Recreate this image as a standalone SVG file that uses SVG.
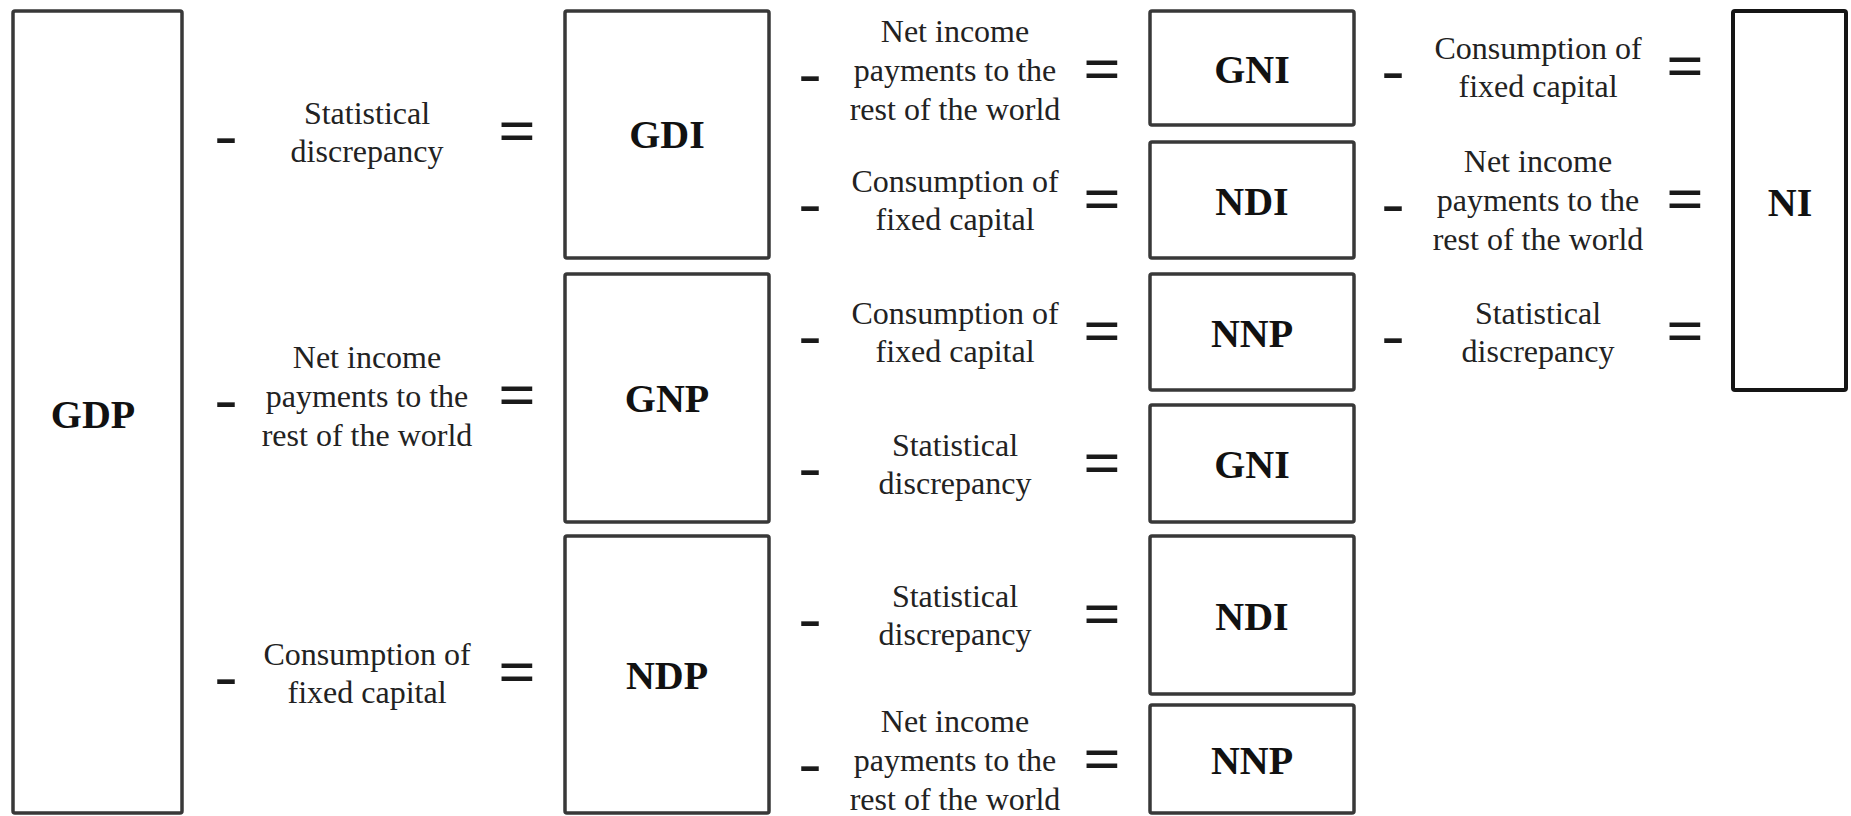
<svg xmlns="http://www.w3.org/2000/svg" width="1851" height="816" viewBox="0 0 1851 816">
<style>
.bg{fill:#ffffff}
.box{fill:#ffffff;stroke:#383838;stroke-width:3.5}
.boxd{fill:#ffffff;stroke:#151515;stroke-width:4}
.lbl{font-family:"Liberation Serif","Times New Roman",serif;font-weight:bold;font-size:40px;fill:#111;text-anchor:middle}
.t{font-family:"Liberation Serif","Times New Roman",serif;font-size:32px;fill:#222;text-anchor:middle}
.op{font-family:"Liberation Serif","Times New Roman",serif;font-weight:bold;fill:#1a1a1a;text-anchor:middle}
.mn{font-size:54px}
.eq{font-size:66px}
</style>
<rect class="bg" x="0" y="0" width="1851" height="816"/>

<g id="GDP"><rect class="box" x="13" y="11" width="169" height="802" rx="2"/><text class="lbl" x="93" y="428">GDP</text></g>
<g id="GDI"><rect class="box" x="565" y="11" width="204" height="247" rx="2"/><text class="lbl" x="667" y="148">GDI</text></g>
<g id="GNP"><rect class="box" x="565" y="274" width="204" height="248" rx="2"/><text class="lbl" x="667" y="412">GNP</text></g>
<g id="NDP"><rect class="box" x="565" y="536" width="204" height="277" rx="2"/><text class="lbl" x="667" y="689">NDP</text></g>
<g id="GNI1"><rect class="box" x="1150" y="11" width="204" height="114" rx="2"/><text class="lbl" x="1252" y="83">GNI</text></g>
<g id="NDI1"><rect class="box" x="1150" y="142" width="204" height="116" rx="2"/><text class="lbl" x="1252" y="215">NDI</text></g>
<g id="NNP1"><rect class="box" x="1150" y="274" width="204" height="116" rx="2"/><text class="lbl" x="1252" y="347">NNP</text></g>
<g id="GNI2"><rect class="box" x="1150" y="405" width="204" height="117" rx="2"/><text class="lbl" x="1252" y="478">GNI</text></g>
<g id="NDI2"><rect class="box" x="1150" y="536" width="204" height="158" rx="2"/><text class="lbl" x="1252" y="630">NDI</text></g>
<g id="NNP2"><rect class="box" x="1150" y="705" width="204" height="108" rx="2"/><text class="lbl" x="1252" y="774">NNP</text></g>
<g id="NI"><rect class="boxd" x="1733" y="11" width="113" height="379" rx="2"/><text class="lbl" x="1790" y="216">NI</text></g>

<g id="connectors">
  <g id="c1a">
    <text class="op mn" transform="translate(226,154) scale(1.25,1)">-</text>
    <text class="t" x="367" y="124">Statistical</text>
    <text class="t" x="367" y="162">discrepancy</text>
    <text class="op eq" transform="translate(517,153)">=</text>
  </g>
  <g id="c1b">
    <text class="op mn" transform="translate(226,418) scale(1.25,1)">-</text>
    <text class="t" x="367" y="368">Net income</text>
    <text class="t" x="367" y="407">payments to the</text>
    <text class="t" x="367" y="446">rest of the world</text>
    <text class="op eq" transform="translate(517,417)">=</text>
  </g>
  <g id="c1c">
    <text class="op mn" transform="translate(226,695) scale(1.25,1)">-</text>
    <text class="t" x="367" y="665">Consumption of</text>
    <text class="t" x="367" y="703">fixed capital</text>
    <text class="op eq" transform="translate(517,694)">=</text>
  </g>
  <g id="c2a">
    <text class="op mn" transform="translate(810,92) scale(1.25,1)">-</text>
    <text class="t" x="955" y="42">Net income</text>
    <text class="t" x="955" y="81">payments to the</text>
    <text class="t" x="955" y="120">rest of the world</text>
    <text class="op eq" transform="translate(1102,91)">=</text>
  </g>
  <g id="c2b">
    <text class="op mn" transform="translate(810,222) scale(1.25,1)">-</text>
    <text class="t" x="955" y="192">Consumption of</text>
    <text class="t" x="955" y="230">fixed capital</text>
    <text class="op eq" transform="translate(1102,221)">=</text>
  </g>
  <g id="c2c">
    <text class="op mn" transform="translate(810,354) scale(1.25,1)">-</text>
    <text class="t" x="955" y="324">Consumption of</text>
    <text class="t" x="955" y="362">fixed capital</text>
    <text class="op eq" transform="translate(1102,353)">=</text>
  </g>
  <g id="c2d">
    <text class="op mn" transform="translate(810,486) scale(1.25,1)">-</text>
    <text class="t" x="955" y="456">Statistical</text>
    <text class="t" x="955" y="494">discrepancy</text>
    <text class="op eq" transform="translate(1102,485)">=</text>
  </g>
  <g id="c2e">
    <text class="op mn" transform="translate(810,637) scale(1.25,1)">-</text>
    <text class="t" x="955" y="607">Statistical</text>
    <text class="t" x="955" y="645">discrepancy</text>
    <text class="op eq" transform="translate(1102,636)">=</text>
  </g>
  <g id="c2f">
    <text class="op mn" transform="translate(810,782) scale(1.25,1)">-</text>
    <text class="t" x="955" y="732">Net income</text>
    <text class="t" x="955" y="771">payments to the</text>
    <text class="t" x="955" y="810">rest of the world</text>
    <text class="op eq" transform="translate(1102,781)">=</text>
  </g>
  <g id="c3a">
    <text class="op mn" transform="translate(1393,89) scale(1.25,1)">-</text>
    <text class="t" x="1538" y="59">Consumption of</text>
    <text class="t" x="1538" y="97">fixed capital</text>
    <text class="op eq" transform="translate(1685,88)">=</text>
  </g>
  <g id="c3b">
    <text class="op mn" transform="translate(1393,222) scale(1.25,1)">-</text>
    <text class="t" x="1538" y="172">Net income</text>
    <text class="t" x="1538" y="211">payments to the</text>
    <text class="t" x="1538" y="250">rest of the world</text>
    <text class="op eq" transform="translate(1685,221)">=</text>
  </g>
  <g id="c3c">
    <text class="op mn" transform="translate(1393,354) scale(1.25,1)">-</text>
    <text class="t" x="1538" y="324">Statistical</text>
    <text class="t" x="1538" y="362">discrepancy</text>
    <text class="op eq" transform="translate(1685,353)">=</text>
  </g>
</g>
</svg>
